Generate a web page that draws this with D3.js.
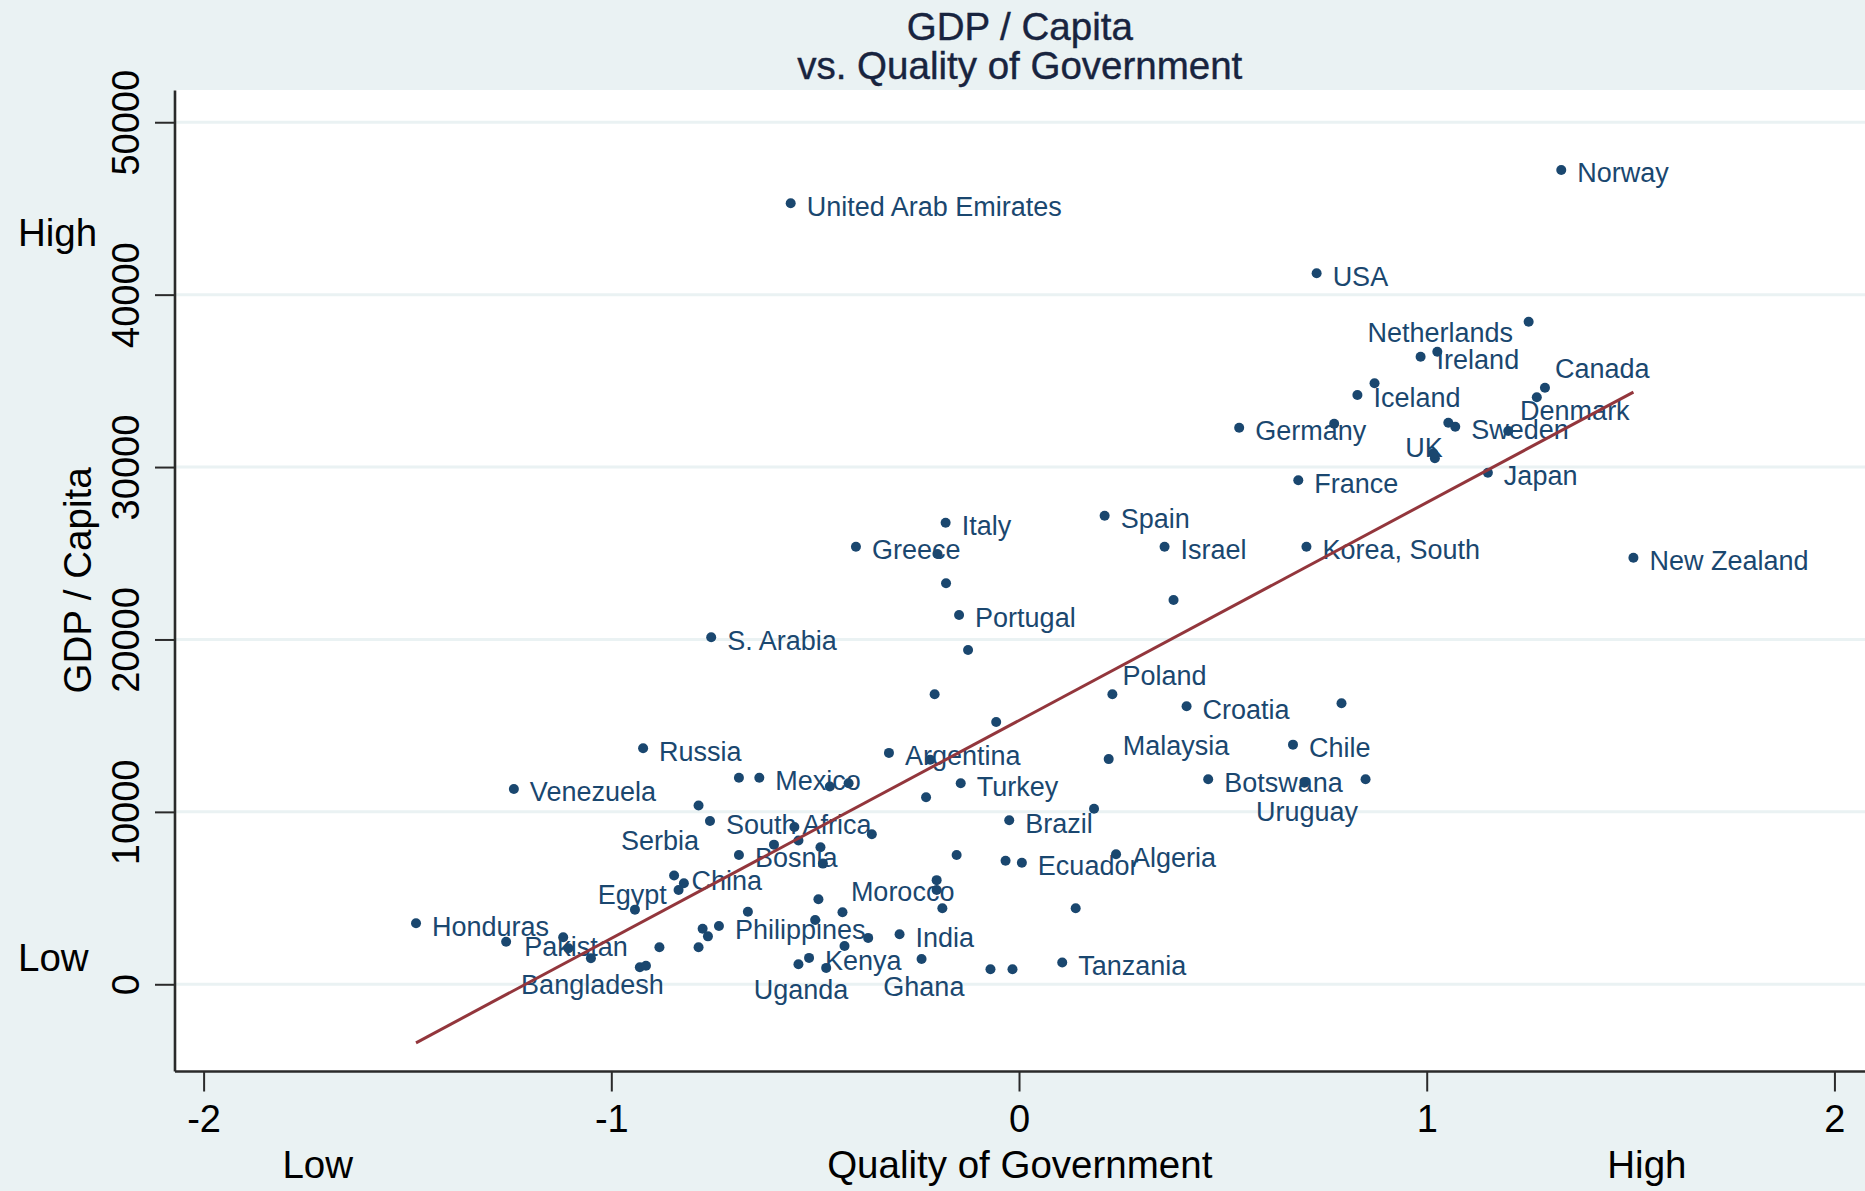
<!DOCTYPE html>
<html>
<head>
<meta charset="utf-8">
<script src="https://cdn.jsdelivr.net/npm/d3@7"></script>
<style>
  html, body { margin: 0; padding: 0; background: #eaf2f3; }
  svg { display: block; }
  text { font-family: "Liberation Sans", Arial, Helvetica, sans-serif; }
</style>
</head>
<body>
<svg id="chart" width="1865" height="1191"></svg>
<script>
// ---------------- data ----------------
const titleLines = ["GDP / Capita", "vs. Quality of Government"];
const xAxisTitle = "Quality of Government";
const yAxisTitle = "GDP / Capita";
const xTicks = [-2, -1, 0, 1, 2];
const yTicks = [0, 10000, 20000, 30000, 40000, 50000];
const xEndLabels = ["Low", "High"];
const xEndAt = [-1.72, 1.54];
const yEndLabels = ["High", "Low"];
const yEndAt = [42820, 790];

const labeledCountries = [
  "Norway", "United Arab Emirates", "USA", "Netherlands", "Ireland", "Canada",
  "Iceland", "Denmark", "Germany", "Sweden", "UK", "Japan", "France", "Italy",
  "Spain", "Greece", "Israel", "Korea, South", "New Zealand", "Portugal",
  "S. Arabia", "Poland", "Croatia", "Russia", "Argentina", "Malaysia", "Chile",
  "Venezuela", "Mexico", "Turkey", "Botswana", "Uruguay", "Brazil",
  "South Africa", "Serbia", "Bosnia", "Ecuador", "Algeria", "China", "Egypt",
  "Morocco", "Honduras", "Philippines", "India", "Pakistan", "Kenya",
  "Bangladesh", "Ghana", "Tanzania", "Uganda"
];
const labeledQog = [
  1.33, -0.56, 0.73, 1.25, 0.985, 1.29,
  0.83, 1.27, 0.54, 1.07, 1.02, 1.15, 0.685, -0.18,
  0.21, -0.40, 0.357, 0.705, 1.507, -0.147,
  -0.755, 0.229, 0.411, -0.922, -0.319, 0.22, 0.672,
  -1.239, -0.637, -0.143, 0.464, 0.700, -0.024,
  -0.758, -0.786, -0.687, 0.007, 0.238, -0.846, -0.942,
  -0.433, -1.479, -0.736, -0.293, -1.258, -0.515,
  -1.050, -0.239, 0.106, -0.541
];
const labeledGdp = [
  47230, 45300, 41240, 38430, 36400, 34600,
  34180, 34050, 32280, 32340, 30510, 29670, 29230, 26770,
  27180, 25380, 25380, 25380, 24740, 21420,
  20130, 16820, 16130, 13690, 13420, 13060, 13900,
  11330, 11980, 11660, 11890, 11690, 9510,
  9470, 10370, 7500, 7050, 7540, 6310, 4330,
  4180, 3540, 3380, 2900, 2470, 1530,
  1510, 1470, 1260, 1160
];

const otherQog = [
  1.026, 0.872, 0.773, 1.053, 1.200, 1.016, -0.200, -0.179, 0.379, -0.125,
  -0.207, 0.791, -0.056, -0.218, 0.850, -0.687, -0.464, -0.418, -0.228, 0.184,
  -0.361, -0.551, -0.601, -0.541, -0.487, -0.481, -0.153, -0.033, -0.822, -0.835,
  -0.202, -0.202, -0.188, 0.139, -0.492, -0.665, -0.500, -0.776, -0.763, -1.118,
  -1.105, -0.882, -0.786, -0.370, -0.428, -0.930, -0.915, -0.473, -0.070, -0.016
];
const otherGdp = [
  36690, 34860, 32510, 32570, 32090, 30800, 24960, 23260, 22290, 19390,
  16820, 16300, 15210, 13030, 11890, 11980, 11470, 11660, 10850, 10180,
  8700, 9120, 8100, 8340, 7950, 7000, 7500, 7170, 5860, 5470,
  6040, 5470, 4410, 4410, 4930, 4210, 3730, 3220, 2780, 2730,
  2090, 2150, 2150, 2690, 2220, 990, 1070, 950, 870, 870
];

// linear fit: [intercept, slope]
const fitCoef = [15300, 12640];

// ---------------- style / layout ----------------
const W = 1865, H = 1191;
const plot = { left: 174.5, right: 1865, top: 90, bottom: 1071 };
const xDomain = [-2.0714, 2.075];
const yDomain = [-5030, 51870];
const navy = "#1a476f";
const maroon = "#93363c";
const bg = "#eaf2f3";

// label placement: [dx, dy(baseline), anchor]; default is to the right
const defaultPlacement = [16, 12.5, "start"];
const labelPlacement = {
  "Netherlands": [-15.6, 20, "end"],
  "UK": [8, -1.6, "end"],
  "Canada": [10, -9.5, "start"],
  "Denmark": [-16.7, 22.7, "start"],
  "Poland": [10, -9.3, "start"],
  "Malaysia": [14, -4, "start"],
  "Uruguay": [2.6, 38, "middle"],
  "Morocco": [8.4, -11, "start"],
  "Uganda": [2.5, 35, "middle"],
  "Ghana": [2.3, 37, "middle"],
  "Bangladesh": [1.5, 35.7, "middle"],
  "Egypt": [-2.7, -5.3, "middle"],
  "Serbia": [0.5, 44.5, "end"],
  "China": [17.5, 14.5, "start"],
  "Pakistan": [18, 14.3, "start"]
};

// ---------------- drawing ----------------
const svg = d3.select("#chart");
svg.append("rect").attr("width", W).attr("height", H).attr("fill", bg);

const x = d3.scaleLinear().domain(xDomain).range([plot.left, plot.right]);
const y = d3.scaleLinear().domain(yDomain).range([plot.bottom, plot.top]);

// plot region
svg.append("rect")
  .attr("x", plot.left).attr("y", plot.top)
  .attr("width", plot.right - plot.left).attr("height", plot.bottom - plot.top)
  .attr("fill", "#ffffff");

// gridlines
svg.append("g").selectAll("line").data(yTicks).join("line")
  .attr("x1", plot.left).attr("x2", plot.right)
  .attr("y1", d => y(d)).attr("y2", d => y(d))
  .attr("stroke", bg).attr("stroke-width", 3);

// y axis
const yAxis = svg.append("g")
  .attr("transform", `translate(${plot.left},0)`)
  .call(d3.axisLeft(y).tickValues(yTicks).tickSize(19.5).tickSizeOuter(0).tickFormat(d => String(d)));
yAxis.select(".domain").attr("stroke", "#2a2a2a").attr("stroke-width", 2.6);
yAxis.selectAll(".tick line").attr("stroke", "#2a2a2a").attr("stroke-width", 2);
yAxis.selectAll(".tick text")
  .attr("x", 0).attr("dy", null)
  .attr("transform", "translate(-36,0) rotate(-90)")
  .attr("text-anchor", "middle")
  .attr("fill", "#000").attr("font-size", 38)
  .style("font-family", '"Liberation Sans", Arial, sans-serif');

// x axis
const xAxis = svg.append("g")
  .attr("transform", `translate(0,${plot.bottom})`)
  .call(d3.axisBottom(x).tickValues(xTicks).tickSize(20.5).tickSizeOuter(0).tickFormat(d => String(d)));
xAxis.select(".domain").attr("stroke", "#2a2a2a").attr("stroke-width", 2.6);
xAxis.selectAll(".tick line").attr("stroke", "#2a2a2a").attr("stroke-width", 2);
xAxis.selectAll(".tick text")
  .attr("y", 61).attr("dy", null)
  .attr("fill", "#000").attr("font-size", 38)
  .style("font-family", '"Liberation Sans", Arial, sans-serif');

// titles
svg.append("g").selectAll("text").data(titleLines).join("text")
  .attr("x", (plot.left + plot.right) / 2)
  .attr("y", (d, i) => 40 + i * 39)
  .attr("text-anchor", "middle")
  .attr("font-size", 38.5)
  .attr("fill", "#18243f")
  .attr("stroke", "#18243f").attr("stroke-width", 0.4)
  .text(d => d);

svg.append("text")
  .attr("x", (plot.left + plot.right) / 2).attr("y", 1178)
  .attr("text-anchor", "middle").attr("font-size", 38.5).attr("fill", "#000")
  .text(xAxisTitle);

svg.append("g").selectAll("text").data(xEndLabels).join("text")
  .attr("x", (d, i) => x(xEndAt[i])).attr("y", 1178)
  .attr("text-anchor", "middle").attr("font-size", 38.5).attr("fill", "#000")
  .text(d => d);

svg.append("text")
  .attr("transform", `translate(91,${(plot.top + plot.bottom) / 2}) rotate(-90)`)
  .attr("text-anchor", "middle").attr("font-size", 38.5).attr("fill", "#000")
  .text(yAxisTitle);

svg.append("g").selectAll("text").data(yEndLabels).join("text")
  .attr("x", 18).attr("y", (d, i) => y(yEndAt[i]))
  .attr("text-anchor", "start").attr("font-size", 38.5).attr("fill", "#000")
  .text(d => d);

// points
const labeled = labeledCountries.map((name, i) => ({ name, q: labeledQog[i], g: labeledGdp[i] }));
const others = otherQog.map((q, i) => ({ name: "", q, g: otherGdp[i] }));
const all = labeled.concat(others);

svg.append("g").selectAll("circle").data(all).join("circle")
  .attr("cx", d => x(d.q)).attr("cy", d => y(d.g))
  .attr("r", 5).attr("fill", navy);

svg.append("g").selectAll("text").data(labeled).join("text")
  .each(function (d) {
    const p = labelPlacement[d.name] || defaultPlacement;
    d3.select(this)
      .attr("x", x(d.q) + p[0]).attr("y", y(d.g) + p[1])
      .attr("text-anchor", p[2]);
  })
  .attr("font-size", 27).attr("fill", navy)
  .text(d => d.name);

// fitted line across the data range
const xr = d3.extent(all, d => d.q);
const line = d3.line().x(d => x(d)).y(d => y(fitCoef[0] + fitCoef[1] * d));
svg.append("path")
  .datum(xr)
  .attr("d", line)
  .attr("fill", "none").attr("stroke", maroon).attr("stroke-width", 3);
</script>
</body>
</html>
